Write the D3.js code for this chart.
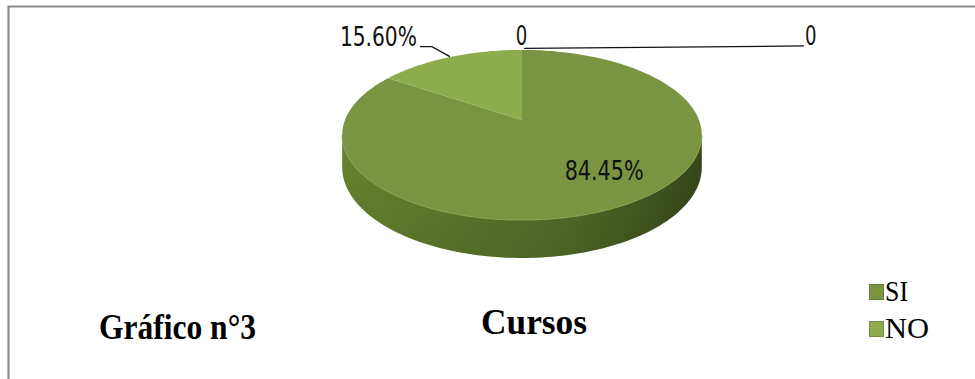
<!DOCTYPE html>
<html>
<head>
<meta charset="utf-8">
<script src="https://cdn.jsdelivr.net/npm/d3@7"></script>
<style>
  html, body { margin: 0; padding: 0; background: #fff; }
  svg { display: block; }
</style>
</head>
<body>
<svg id="chart" width="975" height="379"></svg>
<script>
// ---- data ----
const categories = ["SI", "NO", "", ""];
const values = [84.45, 15.60, 0, 0];
const valueLabels = ["84.45%", "15.60%", "0", "0"];
const legendItems = ["SI", "NO"];
const titleLeft = "Gráfico n°3";
const titleCenter = "Cursos";

// ---- styles ----
const topColors = ["#7a9442", "#8dac4e", "#7a9442", "#7a9442"];
const legendColors = ["#7a9442", "#8dac4e"];

const svg = d3.select("#chart");

// frame (top and left edges visible)
svg.append("path")
  .attr("d", "M8.5,379 L8.5,6.5 L975,6.5")
  .attr("fill", "none").attr("stroke", "#8a8a8a").attr("stroke-width", 2.2);

// ---- 3D pie geometry ----
const cx = 522, cy = 120, rx = 177, ry = 82.4, persp = 0.176, depth = 31.3;
const xScale = d3.scaleLinear().domain([-1, 1]).range([cx - rx, cx + rx]);
const yScale = d3.scaleLinear().domain([-1, 1]).range([cy + ry, cy - ry]);

function proj(theta, r = 1, h = 0) {
  const X = r * Math.sin(theta), Z = r * Math.cos(theta);
  const s = 1 / (1 + persp * Z);
  return [xScale(X * s), yScale(Z * s) + h * depth * s];
}

const pie = d3.pie().sort(null).value(d => d)
  .startAngle(0).endAngle(2 * Math.PI);
const arcs = pie(values);

const defs = svg.append("defs");
const grad = defs.append("linearGradient").attr("id", "wall")
  .attr("x1", "0").attr("x2", "1").attr("y1", "0").attr("y2", "0");
[["0%", "#68842f"], ["30%", "#5f7a2c"], ["65%", "#526b27"], ["100%", "#38481b"]]
  .forEach(([o, c]) => grad.append("stop").attr("offset", o).attr("stop-color", c));
const gradV = defs.append("linearGradient").attr("id", "wallShade")
  .attr("x1", "0").attr("x2", "0").attr("y1", "0").attr("y2", "1");
[["0%", "#000", 0], ["100%", "#000", 0.1]]
  .forEach(([o, c, a]) => gradV.append("stop").attr("offset", o).attr("stop-color", c).attr("stop-opacity", a));

// wall (front visible range)
const thL = Math.acos(-persp), thR = 2 * Math.PI - Math.acos(-persp);
const N = 120;
const wallTop = d3.range(N + 1).map(i => proj(thL + (thR - thL) * i / N, 1, 0));
const wallBot = d3.range(N + 1).map(i => proj(thR - (thR - thL) * i / N, 1, 1));
const line = d3.line();
svg.append("path").attr("d", line(wallTop.concat(wallBot)) + "Z").attr("fill", "url(#wall)");
svg.append("path").attr("d", line(wallTop.concat(wallBot)) + "Z").attr("fill", "url(#wallShade)");

// top faces
arcs.forEach((a, i) => {
  if (a.endAngle - a.startAngle <= 0) return;
  const n = Math.max(2, Math.ceil((a.endAngle - a.startAngle) / 0.02));
  const pts = [proj(0, 0)];
  for (let j = 0; j <= n; j++) pts.push(proj(a.startAngle + (a.endAngle - a.startAngle) * j / n));
  svg.append("path").attr("d", line(pts) + "Z").attr("fill", topColors[i]);
});
// subtle rim highlight on the front edge
const rimPts = d3.range(N + 1).map(i => proj(thL + (thR - thL) * i / N, 1, 0));
svg.append("path").attr("d", line(rimPts)).attr("fill", "none")
  .attr("stroke", "#86a04c").attr("stroke-width", 1.2);

// ---- labels ----
const labelFont = "'Liberation Sans Narrow','Arial Narrow','DejaVu Sans Condensed',sans-serif";
function label(text, x, y, anchor, len) {
  svg.append("text").attr("x", x).attr("y", y)
    .attr("text-anchor", anchor)
    .attr("font-family", labelFont).attr("font-size", 26.5)
    .attr("fill", "#111")
    .attr("textLength", len).attr("lengthAdjust", "spacingAndGlyphs")
    .text(text);
}

// SI : inside label
{
  const a = arcs[0];
  const m = (a.startAngle + a.endAngle) / 2;
  const [x, y] = proj(m, 0.62);
  label(valueLabels[0], x + 25, y + 10, "middle", 79);
}
// NO : outside label with leader
{
  const a = arcs[1];
  const m = (a.startAngle + a.endAngle) / 2;
  const [x0, y0] = proj(m, 1);
  const p1 = [x0 - 18, y0 - 10.5], p2 = [p1[0] - 12, p1[1]];
  svg.append("path").attr("d", line([[x0, y0 - 0.5], p1, p2]))
    .attr("fill", "none").attr("stroke", "#111").attr("stroke-width", 1.3);
  label(valueLabels[1], p2[0] - 3, p2[1] - 1, "end", 77);
}
// zero-value labels at the top of the pie
{
  const [x0, y0] = proj(arcs[2].startAngle, 1);
  label(valueLabels[2], x0 - 0.5, y0 - 5, "middle", 11.5);
  const end = [x0 + 282, y0 - 4];
  svg.append("path").attr("d", line([[x0 + 2, y0 - 1.5], end]))
    .attr("fill", "none").attr("stroke", "#111").attr("stroke-width", 1.3);
  label(valueLabels[3], end[0] + 1, y0 - 5, "start", 11.5);
}

// ---- titles ----
const serif = "'Liberation Serif','Times New Roman',serif";
svg.append("text").attr("x", 99).attr("y", 338.5)
  .attr("font-family", serif).attr("font-weight", "bold").attr("font-size", 35)
  .attr("textLength", 157).attr("lengthAdjust", "spacingAndGlyphs")
  .text(titleLeft);
svg.append("text").attr("x", 481).attr("y", 334)
  .attr("font-family", serif).attr("font-weight", "bold").attr("font-size", 35)
  .attr("textLength", 106).attr("lengthAdjust", "spacingAndGlyphs")
  .text(titleCenter);

// ---- legend ----
const legY = d3.scalePoint().domain(legendItems).range([301, 338]);
const legLen = { SI: 23, NO: 44 };
legendItems.forEach((k, i) => {
  const y = legY(k);
  svg.append("rect").attr("x", 869.5).attr("y", y - 16.5).attr("width", 14).attr("height", 15)
    .attr("fill", legendColors[i]).attr("stroke", d3.color(legendColors[i]).darker(0.5)).attr("stroke-width", 1);
  svg.append("text").attr("x", 885).attr("y", y)
    .attr("font-family", serif).attr("font-size", 29)
    .attr("textLength", legLen[k]).attr("lengthAdjust", "spacingAndGlyphs")
    .text(k);
});
</script>
</body>
</html>
